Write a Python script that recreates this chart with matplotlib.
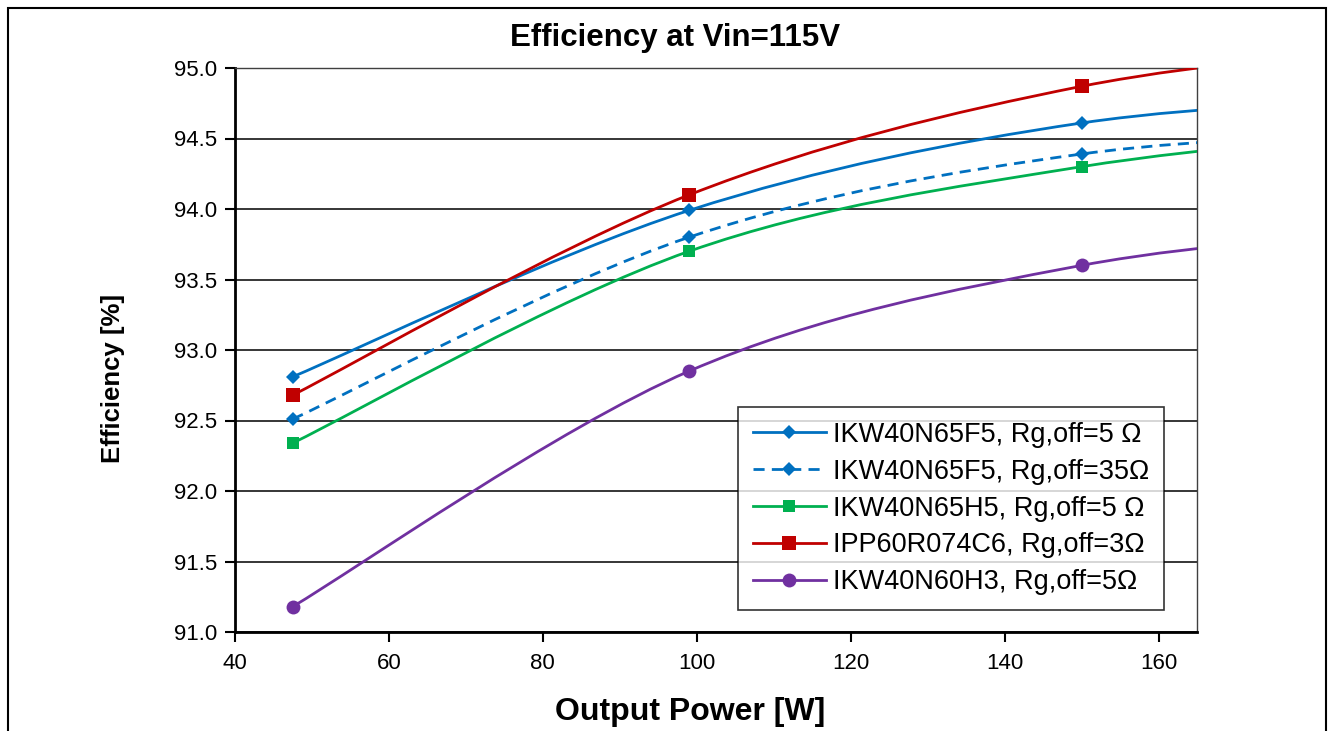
import matplotlib
matplotlib.use("Agg")
import matplotlib.pyplot as plt
from matplotlib.path import Path
from matplotlib.patches import PathPatch, Rectangle
from matplotlib.lines import Line2D

plt.rcParams['font.family'] = ['Liberation Sans', 'DejaVu Sans']

# ---- data (last x value lies outside the visible range; it shapes the curve end) ----
power = [47.5, 99, 150, 200]
eff_f5_5 = [92.81, 93.99, 94.61, 94.81]
eff_f5_35 = [92.51, 93.80, 94.39, 94.56]
eff_h5_5 = [92.34, 93.70, 94.30, 94.59]
eff_c6_3 = [92.68, 94.10, 94.87, 95.20]
eff_h3_5 = [91.18, 92.85, 93.60, 93.89]

labels = ["IKW40N65F5, Rg,off=5 Ω",
          "IKW40N65F5, Rg,off=35Ω",
          "IKW40N65H5, Rg,off=5 Ω",
          "IPP60R074C6, Rg,off=3Ω",
          "IKW40N60H3, Rg,off=5Ω"]
colors = ["#0070C0", "#0070C0", "#00B050", "#C00000", "#7030A0"]
markers = ["D", "D", "s", "s", "o"]
msizes = [7, 7, 9, 10, 10]
styles = ["-", (0, (4, 2.6)), "-", "-", "-"]
series = [eff_f5_5, eff_f5_35, eff_h5_5, eff_c6_3, eff_h3_5]

def smooth_path(xs, ys):
    pts = list(zip(xs, ys))
    n = len(pts)
    verts = [pts[0]]
    codes = [Path.MOVETO]
    for i in range(n - 1):
        p0 = pts[max(i - 1, 0)]
        p1 = pts[i]
        p2 = pts[i + 1]
        p3 = pts[min(i + 2, n - 1)]
        c1 = (p1[0] + (p2[0] - p0[0]) / 6, p1[1] + (p2[1] - p0[1]) / 6)
        c2 = (p2[0] - (p3[0] - p1[0]) / 6, p2[1] - (p3[1] - p1[1]) / 6)
        verts += [c1, c2, p2]
        codes += [Path.CURVE4] * 3
    return Path(verts, codes)

W, H = 1332, 731
fig = plt.figure(figsize=(W / 100, H / 100), dpi=100)
ax = fig.add_axes([235 / W, 1 - 632 / H, (1197 - 235) / W, (632 - 68) / H])

handles = []
for k, (ys, c, m, ms, ls) in enumerate(zip(series, colors, markers, msizes, styles)):
    patch = PathPatch(smooth_path(power, ys), facecolor='none', edgecolor=c,
                      lw=2.0, linestyle=ls, zorder=3 + k * 0.1)
    ax.add_patch(patch)
    ax.plot(power, ys, linestyle='none', marker=m, markersize=ms, color=c,
            markeredgewidth=0, zorder=4)
    handles.append(Line2D([0], [0], color=c, lw=2.0, linestyle=ls, marker=m,
                          markersize=ms, markeredgewidth=0))

ax.set_xlim(40, 165)
ax.set_ylim(91.0, 95.0)
ax.set_xticks([40, 60, 80, 100, 120, 140, 160])
yt = [91.0, 91.5, 92.0, 92.5, 93.0, 93.5, 94.0, 94.5, 95.0]
ax.set_yticks(yt)
ax.set_yticklabels([f"{v:.1f}" for v in yt])
ax.grid(axis='y', color='black', lw=1.1, zorder=1)
ax.set_axisbelow(True)
for s in ['left', 'bottom']:
    ax.spines[s].set_linewidth(2.0)
for s in ['top', 'right']:
    ax.spines[s].set_linewidth(1.0)
    ax.spines[s].set_color('#404040')
ax.tick_params(axis='both', direction='out', length=7, width=1.5, labelsize=16,
               colors='black')
ax.tick_params(axis='x', pad=8)
ax.tick_params(axis='y', pad=6)

fig.text(675 / W, 1 - 38 / H, "Efficiency at Vin=115V", fontsize=22.5,
         fontweight='bold', ha='center', va='center')
ax.set_xlabel("Output Power [W]", fontsize=23, fontweight='bold')
ax.xaxis.set_label_coords((690 - 235) / 962, -(712 - 632) / 564)
ax.xaxis.label.set_va('center')
ax.set_ylabel("Efficiency [%]", fontsize=18.5, fontweight='bold')
ax.yaxis.set_label_coords(-(235 - 113) / 962, (632 - 378) / 564)
ax.yaxis.label.set_va('center')

leg = ax.legend(handles, labels, loc='upper left',
                bbox_to_anchor=((738 - 235) / 962, (632 - 407) / 564),
                fontsize=19.5, frameon=True, fancybox=False, edgecolor='black',
                handlelength=2.7, labelspacing=0.4, handletextpad=0.25,
                borderpad=0.55, borderaxespad=0)
leg.get_frame().set_linewidth(1.2)
leg.set_zorder(10)

fig.patches.append(Rectangle((8 / W, -0.05), (1326 - 8) / W, 1.05 - 8 / H,
                             transform=fig.transFigure, fill=False,
                             edgecolor='black', lw=1.5))

fig.savefig("out.png", dpi=100)
